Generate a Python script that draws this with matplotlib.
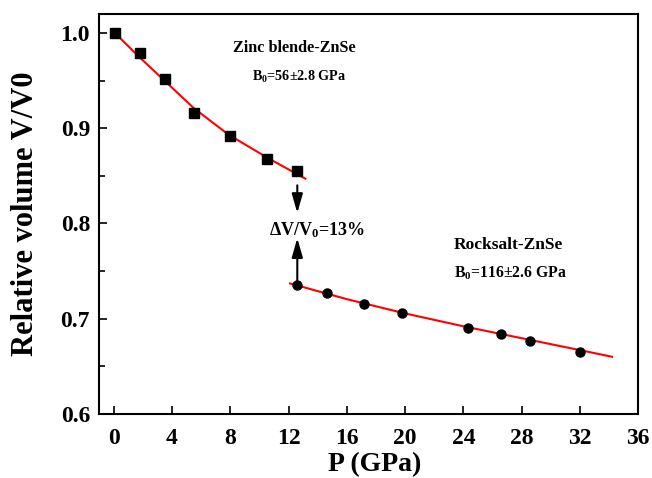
import matplotlib
matplotlib.use('Agg')
from matplotlib import pyplot as plt
from matplotlib.ticker import MultipleLocator

plt.rcParams['font.family'] = ['Liberation Serif', 'DejaVu Serif']
plt.rcParams['font.weight'] = 'bold'
plt.rcParams['mathtext.fontset'] = 'custom'
plt.rcParams['mathtext.rm'] = 'Liberation Serif:bold'
plt.rcParams['mathtext.it'] = 'Liberation Serif:bold'
plt.rcParams['mathtext.bf'] = 'Liberation Serif:bold'

# zinc blende phase, measured points
p_zb = [0.1, 1.8, 3.55, 5.5, 7.95, 10.55, 12.6]
v_zb = [1.0, 0.979, 0.952, 0.916, 0.892, 0.868, 0.855]
# zinc blende fit curve
p_zb_fit = [0.15, 1.7, 3.55, 5.5, 7.9, 10.6, 13.15]
v_zb_fit = [0.999, 0.9755, 0.949, 0.921, 0.893, 0.8685, 0.847]

# rocksalt phase, measured points
p_rs = [12.6, 14.65, 17.2, 19.8, 24.3, 26.6, 28.6, 32.0]
v_rs = [0.735, 0.727, 0.7155, 0.706, 0.690, 0.684, 0.677, 0.665]
# rocksalt fit curve
p_rs_fit = [12.1, 16.0, 20.0, 24.0, 28.0, 32.0, 34.2]
v_rs_fit = [0.737, 0.7205, 0.7055, 0.692, 0.6795, 0.667, 0.660]

fig = plt.figure(figsize=(6.52, 4.78), dpi=100)
ax = fig.add_axes([0.152, 0.134, 0.827, 0.837])

ax.plot(p_zb_fit, v_zb_fit, color='red', lw=1.5, zorder=2)
ax.plot(p_rs_fit, v_rs_fit, color='red', lw=1.5, zorder=2)
ax.plot(p_zb, v_zb, 's', color='black', ms=7, zorder=3)
ax.plot(p_rs, v_rs, 'o', color='black', ms=6.5, zorder=3)

# volume collapse arrows
arrow = dict(arrowstyle='-|>,head_length=1.15,head_width=0.33',
             color='black', lw=1.5, shrinkA=0, shrinkB=0)
ax.annotate('', xy=(12.6, 0.811), xytext=(12.6, 0.840), arrowprops=arrow)
ax.annotate('', xy=(12.6, 0.7845), xytext=(12.6, 0.739), arrowprops=arrow)

ax.text(13.95, 0.793, 'ΔV/V$_0$=13%', fontsize=13, ha='center', va='center')
ax.text(12.38, 0.984, 'Zinc blende-ZnSe', fontsize=11.7, ha='center', va='center')
ax.text(12.75, 0.954, 'B$_0$=56±2.8 GPa', fontsize=10.2, ha='center', va='center')
ax.text(27.1, 0.777, 'Rocksalt-ZnSe', fontsize=12.5, ha='center', va='center')
ax.text(27.2, 0.748, 'B$_0$=116±2.6 GPa', fontsize=11.3, ha='center', va='center')

ax.set_xlim(-1, 36)
ax.set_ylim(0.6, 1.02)
ax.xaxis.set_major_locator(MultipleLocator(4))
ax.yaxis.set_major_locator(MultipleLocator(0.1))
ax.yaxis.set_minor_locator(MultipleLocator(0.05))
ax.tick_params(axis='both', which='major', direction='in', length=5.5, width=1.2,
               labelsize=17, top=False, right=False)
ax.tick_params(axis='x', pad=10)
ax.tick_params(axis='y', pad=6.5)
ax.tick_params(axis='y', which='minor', direction='in', length=4, width=1.2)
for s in ax.spines.values():
    s.set_linewidth(1.5)

ax.set_xlabel('P (GPa)', fontsize=20, fontweight='bold')
ax.set_ylabel('Relative volume V/V0', fontsize=22, fontweight='bold')
ax.xaxis.set_label_coords(0.512, -0.095)
ax.yaxis.set_label_coords(-0.11, 0.5)

fig.savefig('out.png', dpi=100)
